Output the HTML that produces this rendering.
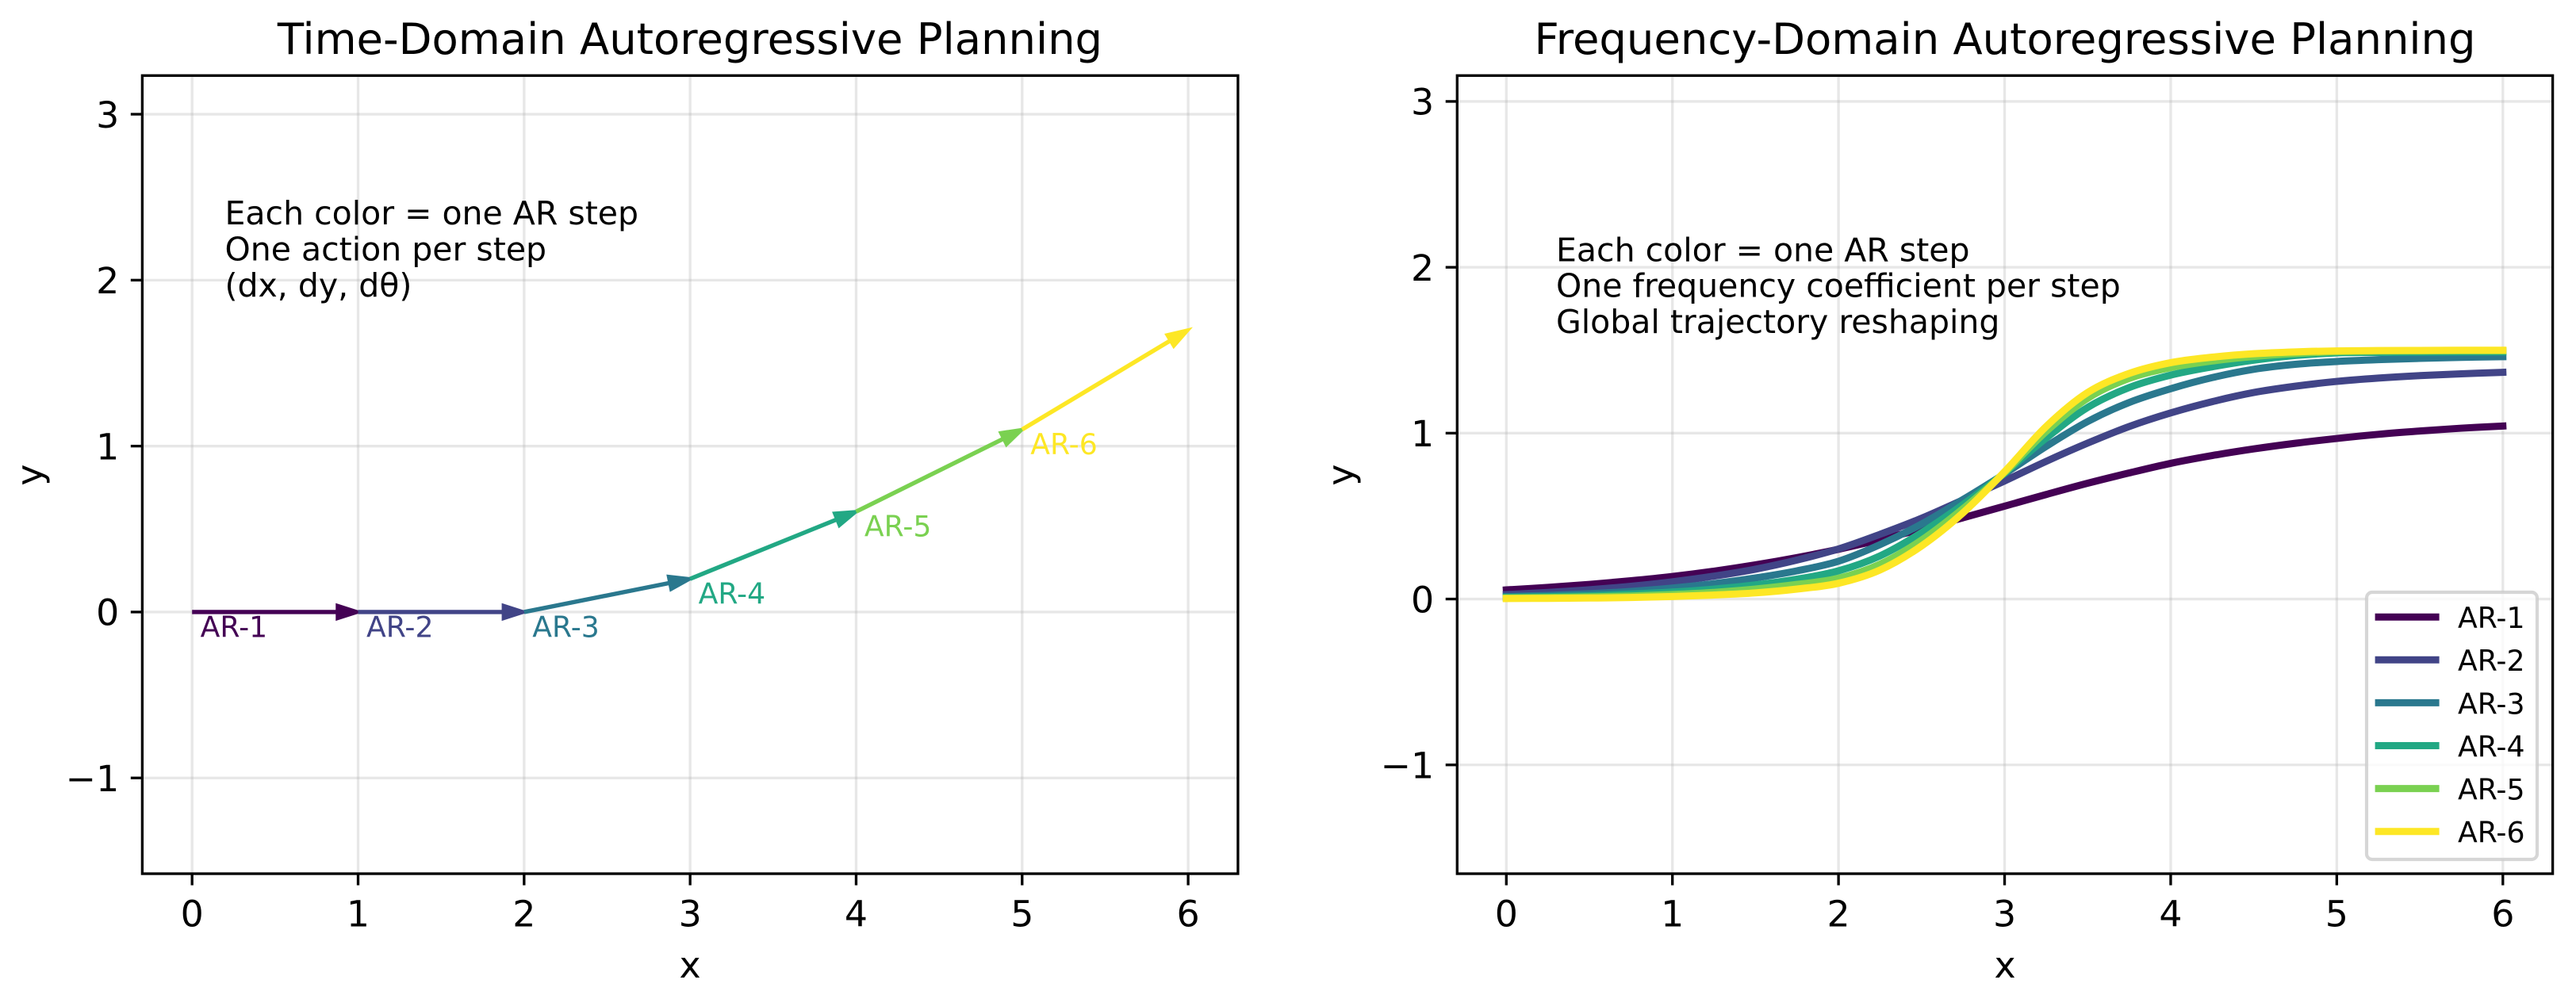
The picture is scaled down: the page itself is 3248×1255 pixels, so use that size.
<!DOCTYPE html>
<html lang="en">
<head>
<meta charset="utf-8">
<title>Time-Domain vs Frequency-Domain Autoregressive Planning</title>
<style>
html,body{margin:0;padding:0;background:#fff;width:3248px;height:1255px;overflow:hidden}
svg{display:block}
text{font-family:"DejaVu Sans","Liberation Sans",sans-serif;fill:#000}
.t{font-size:54.4px;text-anchor:middle}
.n{font-size:41px}
.l{font-size:45.83px;text-anchor:middle}
</style>
</head>
<body>
<svg id="chart" xmlns="http://www.w3.org/2000/svg" width="3248" height="1255" viewBox="0 0 3248 1255">
  <rect x="0" y="0" width="3248" height="1255" fill="#fff"/>
  <g id="time-layer"></g>
  <g id="freq-layer"></g>
  <text class="t" x="870" y="68">Time-Domain Autoregressive Planning</text>
  <text class="t" x="2528" y="68">Frequency-Domain Autoregressive Planning</text>
  <text class="l" x="870" y="1233">x</text>
  <text class="l" x="2528" y="1233">x</text>
  <text class="l" transform="translate(53,599) rotate(-90)">y</text>
  <text class="l" transform="translate(1706,599) rotate(-90)">y</text>
  <g>
    <text class="n" x="283.5" y="283">Each color = one AR step</text>
    <text class="n" x="283.5" y="328.5">One action per step</text>
    <text class="n" x="283.5" y="374">(dx, dy, dθ)</text>
  </g>
  <g>
    <text class="n" x="1962" y="329.3">Each color = one AR step</text>
    <text class="n" x="1962" y="374.7">One frequency coefficient per step</text>
    <text class="n" x="1962" y="420">Global trajectory reshaping</text>
  </g>
</svg>
<script>
const stepNames = ['AR-1', 'AR-2', 'AR-3', 'AR-4', 'AR-5', 'AR-6'];
const stepColors = ['#440154', '#414487', '#2a788e', '#22a884', '#7ad151', '#fde725'];
const xTicks = [0, 1, 2, 3, 4, 5, 6];
const timeYTicks = [-1, 0, 1, 2, 3];
const freqYTicks = [-1, 0, 1, 2, 3];
const timeXLimits = [-0.3, 6.3];
const timeYLimits = [-1.577, 3.233];
const freqXLimits = [-0.296, 6.3];
const freqYLimits = [-1.656, 3.156];

// waypoints of the time-domain arrows
const waypointX = [0, 1, 2, 3, 4, 5, 6];
const waypointY = [0, 0, 0, 0.2, 0.605, 1.1, 1.7];

// frequency-domain curves
const curveX = [0, 0.25, 0.5, 0.75, 1, 1.25, 1.5, 1.75, 2, 2.25, 2.5, 2.75, 3, 3.25, 3.5, 3.75, 4, 4.25, 4.5, 4.75, 5, 5.25, 5.5, 5.75, 6];
const curveAR1 = [0.055, 0.07, 0.088, 0.11, 0.136, 0.168, 0.206, 0.25, 0.3, 0.358, 0.422, 0.49, 0.56, 0.63, 0.698, 0.76, 0.818, 0.865, 0.905, 0.939, 0.968, 0.993, 1.013, 1.03, 1.043];
const curveAR2 = [0.027, 0.04, 0.056, 0.077, 0.104, 0.138, 0.18, 0.235, 0.302, 0.39, 0.487, 0.598, 0.712, 0.83, 0.94, 1.04, 1.122, 1.19, 1.245, 1.283, 1.312, 1.332, 1.347, 1.358, 1.367];
const curveAR3 = [0.015, 0.022, 0.032, 0.046, 0.066, 0.093, 0.127, 0.17, 0.228, 0.328, 0.452, 0.6, 0.755, 0.92, 1.07, 1.185, 1.268, 1.335, 1.385, 1.415, 1.432, 1.443, 1.451, 1.457, 1.461];
const curveAR4 = [0.01, 0.014, 0.02, 0.03, 0.042, 0.06, 0.085, 0.12, 0.17, 0.26, 0.4, 0.57, 0.76, 0.97, 1.155, 1.275, 1.35, 1.4, 1.44, 1.468, 1.484, 1.487, 1.488, 1.489, 1.49];
const curveAR5 = [0.006, 0.009, 0.013, 0.018, 0.027, 0.04, 0.06, 0.088, 0.125, 0.21, 0.355, 0.545, 0.762, 1.01, 1.21, 1.33, 1.395, 1.435, 1.462, 1.48, 1.491, 1.495, 1.496, 1.497, 1.497];
const curveAR6 = [0.003, 0.004, 0.006, 0.009, 0.015, 0.024, 0.037, 0.06, 0.095, 0.175, 0.32, 0.52, 0.768, 1.04, 1.245, 1.36, 1.425, 1.458, 1.479, 1.49, 1.496, 1.498, 1.499, 1.5, 1.5];

const curveSeries = [curveAR1, curveAR2, curveAR3, curveAR4, curveAR5, curveAR6];
const NS = 'http://www.w3.org/2000/svg';

function mk(tag, attrs, parent, txt) {
  const el = document.createElementNS(NS, tag);
  for (const k in attrs) el.setAttribute(k, attrs[k]);
  if (txt !== undefined) el.textContent = txt;
  parent.appendChild(el);
  return el;
}
function scale(dom, r0, r1) {
  return v => r0 + (v - dom[0]) / (dom[1] - dom[0]) * (r1 - r0);
}
const SPINE = 3.33, TICK = 14.58, PAD = 14.58, TICKFONT = 45.83, CURVE_WIDTH = 9;

function drawGridAndTicks(layer, box, sx, sy, yTicks, prefix) {
  const grid = mk('g', {}, layer);
  
  
  xTicks.forEach(v => {
    const line = mk('line', {x1: sx(v), x2: sx(v), y1: box.top, y2: box.bottom, stroke: '#b0b0b0', 'stroke-opacity': 0.3, 'stroke-width': SPINE}, grid);
    
    
  });
  yTicks.forEach(v => {
    const line = mk('line', {x1: box.left, x2: box.right, y1: sy(v), y2: sy(v), stroke: '#b0b0b0', 'stroke-opacity': 0.3, 'stroke-width': SPINE}, grid);
    
    
  });
}
function drawFrame(layer, box, sx, sy, yTicks, prefix) {
  const frame = mk('rect', {x: box.left, y: box.top, width: box.right - box.left, height: box.bottom - box.top, fill: 'none', stroke: '#000', 'stroke-width': SPINE}, layer);
  
  
  xTicks.forEach(v => {
    const tick = mk('line', {x1: sx(v), x2: sx(v), y1: box.bottom, y2: box.bottom + TICK, stroke: '#000', 'stroke-width': SPINE}, layer);
    
    
    const label = mk('text', {x: sx(v), y: 1168.5, 'text-anchor': 'middle', 'font-size': TICKFONT}, layer, String(v));
    
    
  });
  yTicks.forEach(v => {
    const tick = mk('line', {x1: box.left - TICK, x2: box.left, y1: sy(v), y2: sy(v), stroke: '#000', 'stroke-width': SPINE}, layer);
    
    
    const label = mk('text', {x: box.left - TICK - PAD, y: sy(v) + 16.8, 'text-anchor': 'end', 'font-size': TICKFONT}, layer, String(v).replace('-', '\u2212'));
    
    
  });
}

/* ---------- time-domain panel ---------- */
(function () {
  const layer = document.getElementById('time-layer');
  const box = {left: 179.4, right: 1560.9, top: 95.3, bottom: 1102};
  const sx = scale(timeXLimits, box.left, box.right);
  const sy = scale(timeYLimits, box.bottom, box.top);
  const headW = 0.08, headL = 0.125;
  drawGridAndTicks(layer, box, sx, sy, timeYTicks, 'time');
  stepNames.forEach((name, i) => {
    const x0 = waypointX[i], y0 = waypointY[i], x1 = waypointX[i + 1], y1 = waypointY[i + 1];
    const px0 = sx(x0), py0 = sy(y0), px1 = sx(x1), py1 = sy(y1);
    const dx = px1 - px0, dy = py1 - py0, len = Math.hypot(dx, dy);
    const ux = dx / len, uy = dy / len;
    const hl = headL * (sx(1) - sx(0)), hw = headW * (sx(1) - sx(0)) / 2;
    const bx = px1 - ux * hl, by = py1 - uy * hl;
    const g = mk('g', {}, layer);
    
    
    const shaft = mk('line', {x1: px0, y1: py0, x2: bx, y2: by, stroke: stepColors[i], 'stroke-width': 5.4}, g);
    
    
    const pts = [[px1, py1], [bx - uy * hw, by + ux * hw], [bx + uy * hw, by - ux * hw]].map(p => p.join(',')).join(' ');
    const head = mk('polygon', {points: pts, fill: stepColors[i], stroke: stepColors[i], 'stroke-width': 4.17, 'stroke-linejoin': 'miter', 'stroke-miterlimit': 10}, g);
    
    
    const label = mk('text', {x: sx(x0 + 0.05), y: sy(y0 - 0.15), 'font-size': 36.2, style: 'fill:' + stepColors[i]}, g, name);
    
    
  });
  drawFrame(layer, box, sx, sy, timeYTicks, 'time');
})();

/* ---------- frequency-domain panel ---------- */
(function () {
  const layer = document.getElementById('freq-layer');
  const box = {left: 1837.3, right: 3218.6, top: 95.3, bottom: 1102};
  const sx = scale(freqXLimits, box.left, box.right);
  const sy = scale(freqYLimits, box.bottom, box.top);
  drawGridAndTicks(layer, box, sx, sy, freqYTicks, 'frequency');
  function smoothPath(xs, ys) {
    const p = xs.map((x, i) => [sx(x), sy(ys[i])]);
    let d = 'M' + p[0][0] + ' ' + p[0][1];
    for (let i = 0; i < p.length - 1; i++) {
      const a = p[Math.max(i - 1, 0)], b = p[i], c = p[i + 1], e = p[Math.min(i + 2, p.length - 1)];
      d += ' C' + (b[0] + (c[0] - a[0]) / 6) + ' ' + (b[1] + (c[1] - a[1]) / 6) + ' ' + (c[0] - (e[0] - b[0]) / 6) + ' ' + (c[1] - (e[1] - b[1]) / 6) + ' ' + c[0] + ' ' + c[1];
    }
    return d;
  }
  curveSeries.forEach((ys, i) => {
    const path = mk('path', {d: smoothPath(curveX, ys), fill: 'none', stroke: stepColors[i], 'stroke-width': CURVE_WIDTH, 'stroke-linecap': 'square', 'stroke-linejoin': 'round'}, layer);
    
    
  });
  drawFrame(layer, box, sx, sy, freqYTicks, 'frequency');
  const legend = mk('g', {}, layer);
  
  
  const legendBox = mk('rect', {x: 2984, y: 747, width: 215, height: 337, rx: 7, ry: 7, fill: '#fff', 'fill-opacity': 0.8, stroke: '#ccc', 'stroke-opacity': 0.8, 'stroke-width': 4.17}, legend);
  
  
  stepNames.forEach((name, i) => {
    const rowY = 778.2 + 54.1 * i;
    const entry = mk('g', {}, legend);
    
    
    const swatch = mk('line', {x1: 2994.6, x2: 3075.6, y1: rowY, y2: rowY, stroke: stepColors[i], 'stroke-width': CURVE_WIDTH}, entry);
    
    
    const label = mk('text', {x: 3099, y: rowY + 13.9, 'font-size': 36.2}, entry, name);
    
    
  });
})();
</script>
</body>
</html>
